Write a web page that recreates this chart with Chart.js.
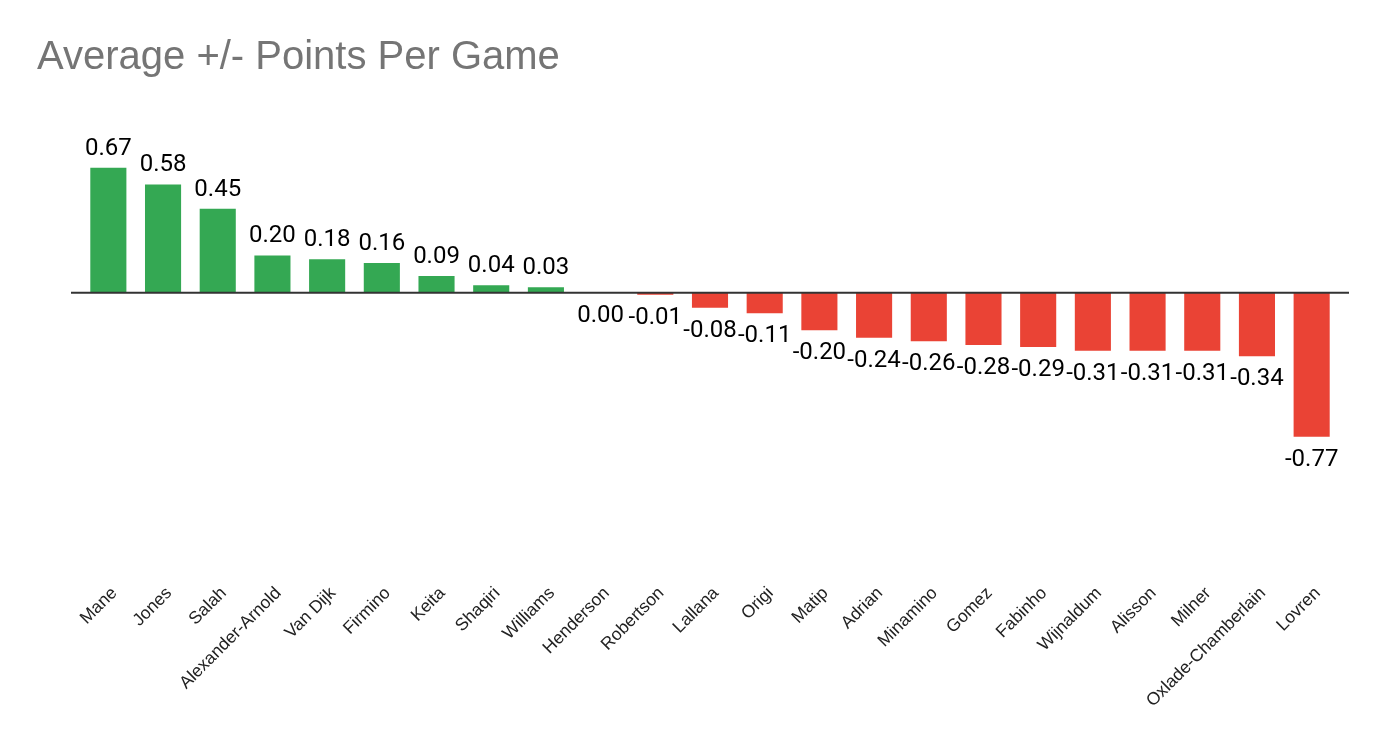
<!DOCTYPE html>
<html>
<head>
<meta charset="utf-8">
<script src="https://cdn.jsdelivr.net/npm/chart.js@4"></script>
<style>
  html, body { margin: 0; padding: 0; background: #ffffff; }
  #wrap { width: 1386px; height: 742px; }
</style>
</head>
<body>
<div id="wrap"><canvas id="pointsChart" width="1386" height="742"></canvas></div>
<script>
// Players and their average +/- points per game
const players = ['Mane', 'Jones', 'Salah', 'Alexander-Arnold', 'Van Dijk', 'Firmino', 'Keita', 'Shaqiri',
    'Williams', 'Henderson', 'Robertson', 'Lallana', 'Origi', 'Matip', 'Adrian', 'Minamino', 'Gomez',
    'Fabinho', 'Wijnaldum', 'Alisson', 'Milner', 'Oxlade-Chamberlain', 'Lovren'];
const pointsPerGame = [0.67, 0.58, 0.45, 0.20, 0.18, 0.16, 0.09, 0.04, 0.03, 0.00, -0.01, -0.08, -0.11,
    -0.20, -0.24, -0.26, -0.28, -0.29, -0.31, -0.31, -0.31, -0.34, -0.77];
const chartTitle = 'Average +/- Points Per Game';

document.addEventListener("DOMContentLoaded", function() {
    const ctx = document.getElementById('pointsChart').getContext('2d');

    // Title drawn at the top left of the canvas
    const titlePlugin = {
        id: 'leftTitle',
        afterDraw(chart) {
            const c = chart.ctx;
            c.save();
            c.font = '40px "Liberation Sans", Arial, sans-serif';
            c.fillStyle = '#757575';
            c.textAlign = 'left';
            c.textBaseline = 'alphabetic';
            c.fillText(chartTitle, 37, 69);
            c.restore();
        }
    };

    // Zero line and value labels on the bars
    const valuePlugin = {
        id: 'barValues',
        afterDatasetsDraw(chart) {
            const c = chart.ctx;
            const area = chart.chartArea;
            const zeroY = chart.scales.y.getPixelForValue(0);
            c.save();
            c.strokeStyle = '#333333';
            c.lineWidth = 2;
            c.beginPath();
            c.moveTo(area.left - 10, zeroY);
            c.lineTo(area.right + 10, zeroY);
            c.stroke();

            c.font = '24px Roboto, sans-serif';
            c.fillStyle = '#000000';
            c.textAlign = 'center';
            c.textBaseline = 'alphabetic';
            chart.getDatasetMeta(0).data.forEach((bar, i) => {
                const v = pointsPerGame[i];
                const y = v > 0 ? bar.y - 13 : bar.y + 29;
                c.fillText(v.toFixed(2), bar.x, y);
            });
            c.restore();
        }
    };

    new Chart(ctx, {
        type: 'bar',
        data: {
            labels: players,
            datasets: [{
                data: pointsPerGame,
                backgroundColor: pointsPerGame.map(v => v > 0 ? '#34a853' : '#ea4335'),
                barPercentage: 0.66,
                categoryPercentage: 1.0
            }]
        },
        options: {
            responsive: false,
            animation: false,
            layout: {
                padding: { left: 81, right: 47, top: 106, bottom: 19 }
            },
            scales: {
                x: {
                    grid: { display: false },
                    border: { display: false },
                    ticks: {
                        autoSkip: false,
                        minRotation: 45,
                        maxRotation: 45,
                        padding: 2,
                        labelOffset: 6,
                        color: '#222222',
                        font: { family: '"Liberation Sans", Arial, sans-serif', size: 17.5 }
                    },
                    afterFit(scale) { scale.height = 150; }
                },
                y: {
                    display: false,
                    min: -1.5,
                    max: 1.0
                }
            },
            plugins: {
                legend: { display: false },
                tooltip: { enabled: false }
            }
        },
        plugins: [titlePlugin, valuePlugin]
    });
});
</script>
</body>
</html>
